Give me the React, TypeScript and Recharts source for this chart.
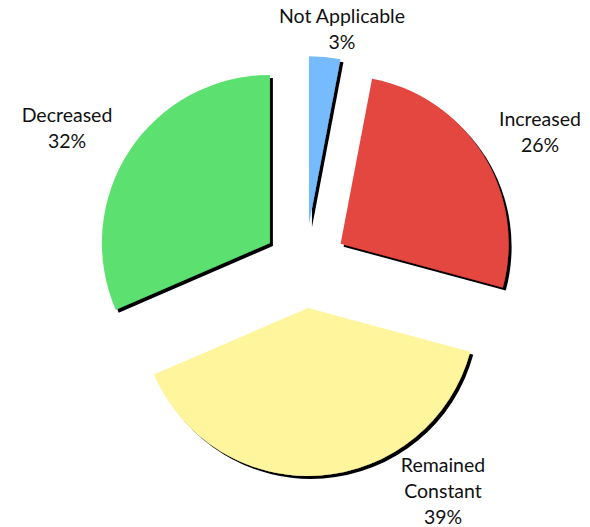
import { PieChart, Pie, Cell } from 'recharts'

// survey answers, clockwise from 12 o'clock (shares)
const categories = ['Not Applicable', 'Increased', 'Remained\nConstant', 'Decreased']
const shares = [3, 26.2, 39.3, 31.5]
const colors = ['#75bbfd', '#e44641', '#fff59d', '#5be16f']

const data = categories.map((name, i) => ({ name, value: shares[i] }))
const total = shares.reduce((a, b) => a + b, 0)

const W = 590
const H = 527
const CX = 305
const CY = 266
const R = 168
const EXPLODE = 42

// where each label block sits, relative to the pie centre
const labelOffsets: [number, number][] = [
  [37, -243],
  [235, -140],
  [138, 206],
  [-238, -144],
]

function sliceOffset(i: number) {
  const before = shares.slice(0, i).reduce((a, b) => a + b, 0)
  const mid = 90 - (360 * (before + shares[i] / 2)) / total
  const rad = (mid * Math.PI) / 180
  return { dx: EXPLODE * Math.cos(rad), dy: -EXPLODE * Math.sin(rad) }
}

function makeLabel(k: number) {
  return (props: any) => {
    if (props.index !== k) return null
    const x = CX + labelOffsets[k][0]
    const y = CY + labelOffsets[k][1]
    const pct = Math.round((shares[k] / total) * 100)
    const lines = [...categories[k].split('\n'), `${pct}%`]
    return (
      <text x={x} y={y} textAnchor="middle" fill="#111" fontSize={19.5} fontFamily="Lato, 'Open Sans', sans-serif">
        {lines.map((l, j) => (
          <tspan key={j} x={x} dy={j === 0 ? 0 : 26}>
            {l}
          </tspan>
        ))}
      </text>
    )
  }
}

export default function App() {
  return (
    <div style={{ position: 'absolute', left: 0, top: 0, width: W, height: H, background: '#fff' }}>
      <svg width={0} height={0} style={{ position: 'absolute' }}>
        <defs>
          <filter id="pieShadow" x="-10%" y="-10%" width="130%" height="130%">
            <feDropShadow dx={3} dy={3} stdDeviation={0.6} floodColor="#000" floodOpacity={1} />
          </filter>
        </defs>
      </svg>
      <PieChart width={W} height={H} margin={{ top: 0, right: 0, bottom: 0, left: 0 }}>
        {data.map((_, k) => {
          const { dx, dy } = sliceOffset(k)
          return (
            <Pie
              key={k}
              data={data}
              dataKey="value"
              nameKey="name"
              cx={CX + dx}
              cy={CY + dy}
              outerRadius={R}
              startAngle={90}
              endAngle={-270}
              stroke="none"
              labelLine={false}
              label={makeLabel(k)}
              isAnimationActive={false}
            >
              {data.map((d, i) => (
                <Cell
                  key={d.name}
                  fill={i === k ? colors[i] : 'none'}
                  filter={i === k ? 'url(#pieShadow)' : undefined}
                />
              ))}
            </Pie>
          )
        })}
      </PieChart>
    </div>
  )
}
